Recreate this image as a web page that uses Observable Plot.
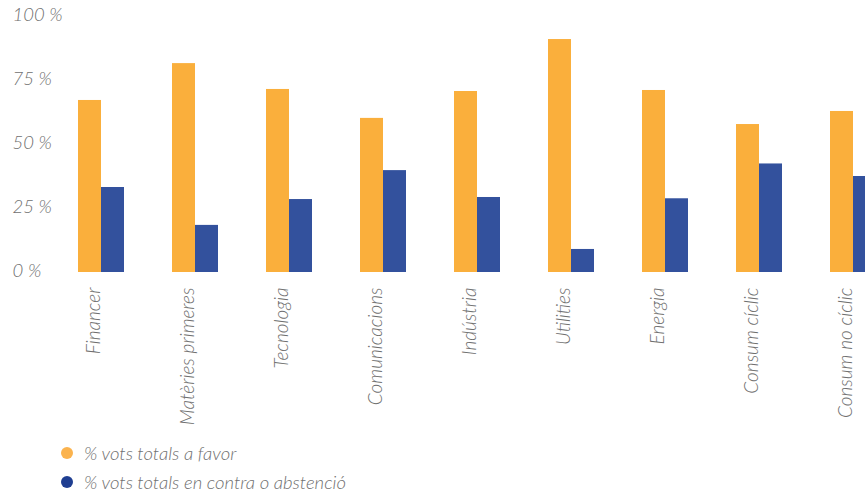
<!DOCTYPE html>
<html>
<head>
<meta charset="utf-8">
<script src="https://cdn.jsdelivr.net/npm/d3@7"></script>
<script src="https://cdn.jsdelivr.net/npm/@observablehq/plot@0.6"></script>
<style>
  html, body { margin: 0; padding: 0; background: #fff; overflow: hidden; }
  #chart { width: 865px; }
  .legend { font-family: Lato, sans-serif; font-style: italic; font-weight: 300; font-size: 18.5px; color: #707070; margin-left: 61px; }
  .legend .row { display: flex; align-items: center; height: 29px; }
  .legend .dot { width: 12px; height: 12px; border-radius: 50%; margin-right: 11px; }
</style>
</head>
<body>
<div id="chart"></div>
<script>
const categories = ["Financer", "Matèries primeres", "Tecnologia", "Comunicacions", "Indústria", "Utilities", "Energia", "Consum cíclic", "Consum no cíclic"];
const favor  = [67.2, 81.6, 71.5, 60.2, 70.7, 91.0, 71.1, 57.8, 62.9];
const contra = [33.2, 18.4, 28.5, 39.8, 29.3, 9.0, 28.8, 42.4, 37.5];
const seriesNames = ["% vots totals a favor", "% vots totals en contra o abstenció"];
const seriesColors = ["#FAAF3C", "#33519D"];
const legendColors = ["#FBB34E", "#1F3E91"];
const yTicks = [0, 25, 50, 75, 100];

const rowsFavor = categories.map((c, i) => ({category: c, value: favor[i]}));
const rowsContra = categories.map((c, i) => ({category: c, value: contra[i]}));

const plot = Plot.plot({
  width: 865,
  height: 432,
  marginTop: 16,
  marginBottom: 160,
  marginLeft: 12,
  marginRight: 0,
  style: {fontFamily: "Lato, sans-serif", fontStyle: "italic", fontWeight: 300, fontSize: "18px", color: "#707070", overflow: "hidden"},
  x: {domain: categories, range: [52, 902.5], paddingInner: 0.513, paddingOuter: 0.2565, align: 0.5},
  y: {domain: [0, 100], range: [272, 16]},
  marks: [
    Plot.barY(rowsFavor, {x: "category", y: "value", fill: seriesColors[0], insetRight: 23}),
    Plot.barY(rowsContra, {x: "category", y: "value", fill: seriesColors[1], insetLeft: 23}),
    Plot.axisY({ticks: yTicks, tickSize: 0, tickPadding: 0, textAnchor: "start", tickFormat: d => d + " %", fontSize: 18.5, dy: -1, label: null}),
    Plot.axisX({tickSize: 0, tickPadding: 15, tickRotate: -90, dx: -8, label: null, fontSize: 19})
  ]
});
document.getElementById("chart").appendChild(plot);

const legend = document.createElement("div");
legend.className = "legend";
seriesNames.forEach((name, i) => {
  const row = document.createElement("div");
  row.className = "row";
  const dot = document.createElement("span");
  dot.className = "dot";
  dot.style.background = legendColors[i];
  const txt = document.createElement("span");
  txt.textContent = name;
  row.appendChild(dot);
  row.appendChild(txt);
  legend.appendChild(row);
});
legend.style.marginTop = "6px";
document.getElementById("chart").appendChild(legend);
</script>
</body>
</html>
